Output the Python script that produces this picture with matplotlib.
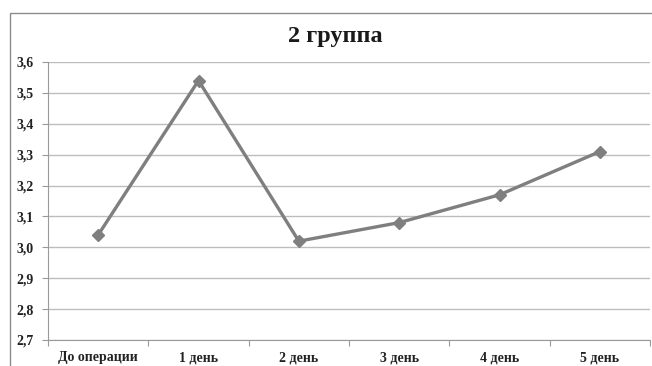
import matplotlib
matplotlib.use("Agg")
import matplotlib.pyplot as plt
from matplotlib.patches import Rectangle
from matplotlib.ticker import FixedLocator, FuncFormatter

categories = ["До операции", "1 день", "2 день", "3 день", "4 день", "5 день"]
values = [3.04, 3.54, 3.02, 3.08, 3.17, 3.31]
y_ticks = [2.7, 2.8, 2.9, 3.0, 3.1, 3.2, 3.3, 3.4, 3.5, 3.6]
title = "2 группа"

W, H = 652, 366
fig = plt.figure(figsize=(W / 100, H / 100), dpi=100)
fig.patch.set_facecolor("white")

# outer chart frame
fig.patches.append(Rectangle((10 / W, -0.05), 1.2, 1 - 13 / H + 0.05,
                             transform=fig.transFigure, fill=False,
                             edgecolor="#8c8c8c", linewidth=1.0))

left, right, top, bottom = 48, 650, 62, 340
ax = fig.add_axes([left / W, 1 - bottom / H, (right - left) / W, (bottom - top) / H])

x = list(range(len(categories)))
ax.plot(x, values, color="#7f7f7f", linewidth=2.4, marker="D",
        markersize=6.5, markerfacecolor="#7f7f7f", markeredgecolor="#7f7f7f",
        zorder=3)

ax.set_xlim(-0.5, len(categories) - 0.5)
ax.set_ylim(y_ticks[0], y_ticks[-1])
ax.set_yticks(y_ticks)
ax.yaxis.set_major_formatter(FuncFormatter(lambda v, p: f"{v:.1f}".replace(".", ",")))
ax.yaxis.grid(True, color="#bdbdbd", linewidth=1.0)
ax.set_axisbelow(True)

ax.xaxis.set_major_locator(FixedLocator([i + 0.5 for i in range(-1, len(categories))]))
ax.xaxis.set_major_formatter(FuncFormatter(lambda v, p: ""))
ax.xaxis.set_minor_locator(FixedLocator(x))
ax.set_xticklabels(categories, minor=True)
ax.tick_params(axis="x", which="minor", length=0, pad=8)
ax.tick_params(axis="x", which="major", length=4, color="#9a9a9a")
ax.tick_params(axis="y", length=4, color="#9a9a9a", pad=6)

for lab in ax.get_xticklabels(minor=True) + ax.get_yticklabels():
    lab.set_fontfamily("Liberation Serif")
    lab.set_fontweight("bold")
    lab.set_fontsize(10)
    lab.set_color("#222222")

for s in ["top", "right"]:
    ax.spines[s].set_visible(False)
ax.spines["left"].set_color("#9a9a9a")
ax.spines["bottom"].set_color("#9a9a9a")

fig.text(335 / W, 1 - 42 / H, title, ha="center", va="baseline",
         fontfamily="Liberation Serif", fontweight="bold", fontsize=17.5,
         color="#1a1a1a")

fig.savefig("out.png", dpi=100)
